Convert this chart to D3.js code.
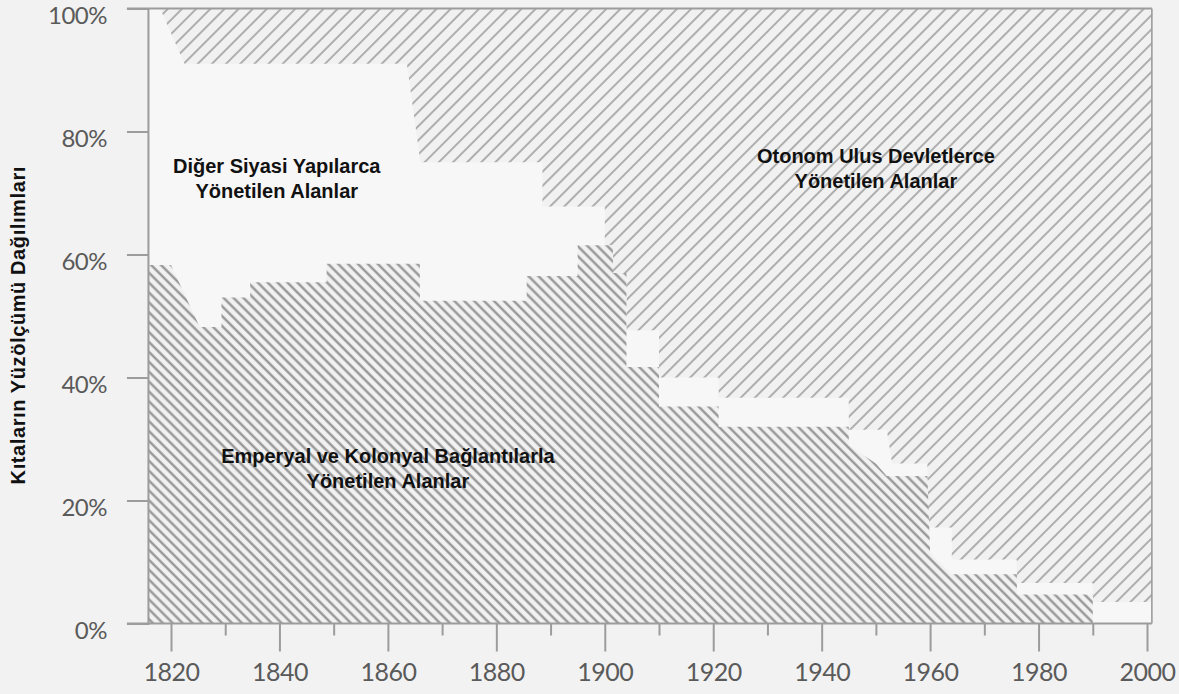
<!DOCTYPE html>
<html><head><meta charset="utf-8">
<script src="https://cdn.jsdelivr.net/npm/d3@7"></script>
<style>
html,body{margin:0;padding:0;background:#f2f2f2;}
svg{display:block;}
</style></head><body>
<svg id="chart" width="1179" height="694"></svg>
<script>
// ---- data ----
const yearStart = 1815.75;
const yearEnd = 2000.9;
// upper edge of "Emperyal ve Kolonyal" region (% of land area)
const colonialYears  = [1815.75,1820,1825.3,1829.3,1829.3,1834.6,1834.6,1848.7,1848.7,1865.9,1865.9,1885.6,1885.6,1895,1895,1901.5,1901.5,1904,1904,1910,1910,1921,1921,1945,1945,1950,1952,1959.5,1960,1964,1976,1976,1990,1990,2000.9];
const colonialValues = [58.3,58.3,48.2,48.2,53,53,55.5,55.5,58.5,58.5,52.5,52.5,56.5,56.5,61.5,61.5,57,57,41.7,41.7,35.3,35.3,32,32,29,26,24,24,11.5,8,8,4.7,4.7,0,0];
// lower edge of "Otonom Ulus Devletlerce" region (% of land area)
const nationYears  = [1815.75,1818,1822.5,1863.5,1866,1888.5,1888.5,1900,1900,1901.5,1901.5,1904,1904,1910,1910,1921,1921,1945,1945,1952,1953,1959.5,1959.5,1964,1964,1976,1976,1990,1990,2000.9];
const nationValues = [100,100,91,91,75,75,67.8,67.8,61.5,61.5,57,57,47.7,47.7,40,40,36.7,36.7,31.5,31.5,26,26,15.6,15.6,10.4,10.4,6.6,6.6,3.5,3.5];
const xTickYears = [1820,1840,1860,1880,1900,1920,1940,1960,1980,2000];
const xMinorYears = [1830,1850,1870,1890,1910,1930,1950,1970,1990];
const yTickValues = [0,20,40,60,80,100];
const yTickLabels = ["0%","20%","40%","60%","80%","100%"];
const yAxisTitle = "Kıtaların Yüzölçümü Dağılımları";
const labelOther = ["Diğer Siyasi Yapılarca","Yönetilen Alanlar"];
const labelNation = ["Otonom Ulus Devletlerce","Yönetilen Alanlar"];
const labelColonial = ["Emperyal ve Kolonyal Bağlantılarla","Yönetilen Alanlar"];

// ---- drawing ----
const svg = d3.select("#chart");
const x = d3.scaleLinear().domain([1820,2000]).range([171,1147]);
const y = d3.scaleLinear().domain([0,100]).range([623.5,8.5]);

const defs = svg.append("defs");
function hatch(id, spacing, angle, color, width){
  const p = defs.append("pattern").attr("id",id)
    .attr("patternUnits","userSpaceOnUse")
    .attr("width",spacing).attr("height",spacing)
    .attr("patternTransform",`rotate(${angle})`);
  p.append("rect").attr("width",spacing).attr("height",spacing).attr("fill","#f1f1f1");
  p.append("line").attr("x1",spacing/2).attr("x2",spacing/2).attr("y1",-1).attr("y2",spacing+1)
    .attr("stroke",color).attr("stroke-width",width);
}
hatch("hColonial", 7, -45, "#8f8f8f", 2.2);
hatch("hNation", 10, 45, "#a2a2a2", 1.7);

// plot background (other political structures)
svg.append("rect").attr("x",x(yearStart)).attr("y",y(100))
  .attr("width",x(yearEnd)-x(yearStart)).attr("height",y(0)-y(100))
  .attr("fill","#f7f7f7");

const colonialData = colonialYears.map((t,i)=>({t,v:colonialValues[i]}));
const nationData = nationYears.map((t,i)=>({t,v:nationValues[i]}));

svg.append("path").datum(nationData)
  .attr("d", d3.area().x(d=>x(d.t)).y0(d=>y(d.v)).y1(y(100)))
  .attr("fill","url(#hNation)");
svg.append("path").datum(colonialData)
  .attr("d", d3.area().x(d=>x(d.t)).y0(y(0)).y1(d=>y(d.v)))
  .attr("fill","url(#hColonial)");

// frame and axes
const axisColor = "#9c9c9c";
const g = svg.append("g");
g.append("line").attr("x1",127).attr("x2",x(yearEnd)).attr("y1",y(100)).attr("y2",y(100)).attr("stroke",axisColor).attr("stroke-width",2);
g.append("line").attr("x1",x(yearEnd)).attr("x2",x(yearEnd)).attr("y1",y(100)).attr("y2",y(0)).attr("stroke",axisColor).attr("stroke-width",1.6);

const xAxis = d3.axisBottom(x).tickValues(xTickYears).tickFormat(d3.format("d")).tickSize(28).tickPadding(6);
const xg = svg.append("g").attr("transform",`translate(0,${y(0)})`).call(xAxis);
xg.select(".domain").remove();
xg.selectAll(".tick line").attr("stroke",axisColor).attr("stroke-width",2);
xg.selectAll(".tick text").attr("fill","#5a5a5a").attr("font-family","Lato, 'Open Sans', sans-serif")
  .attr("font-size",25).attr("letter-spacing","-0.5px").attr("dy","0.95em");
const xMinor = d3.axisBottom(x).tickValues(xMinorYears).tickSize(12).tickFormat("");
const xmg = svg.append("g").attr("transform",`translate(0,${y(0)})`).call(xMinor);
xmg.select(".domain").remove();
xmg.selectAll(".tick line").attr("stroke",axisColor).attr("stroke-width",2);
g.append("line").attr("x1",127).attr("x2",x(yearEnd)).attr("y1",y(0)).attr("y2",y(0)).attr("stroke",axisColor).attr("stroke-width",2);

const yAxis = d3.axisLeft(y).tickValues(yTickValues).tickFormat((d,i)=>yTickLabels[i]).tickSize(21).tickPadding(20);
const yg = svg.append("g").attr("transform",`translate(${x(yearStart)},0)`).call(yAxis);
yg.select(".domain").attr("stroke",axisColor).attr("stroke-width",2);
yg.selectAll(".tick line").attr("stroke",axisColor).attr("stroke-width",2);
yg.selectAll(".tick text").attr("fill","#5a5a5a").attr("font-family","Lato, 'Open Sans', sans-serif")
  .attr("font-size",24).attr("letter-spacing","-0.5px").attr("dy","0.64em");

// y axis title
svg.append("text").attr("transform",`translate(25,${y(48.5)}) rotate(-90)`)
  .attr("text-anchor","middle").attr("font-family","'Liberation Sans', Arial, sans-serif")
  .attr("font-weight","bold").attr("font-size",20).attr("letter-spacing","0.6px").attr("fill","#111")
  .text(yAxisTitle);

// region labels
function label(lines, cx, by){
  const t = svg.append("text").attr("text-anchor","middle")
    .attr("font-family","'Liberation Sans', Arial, sans-serif").attr("font-weight","bold")
    .attr("font-size",20).attr("fill","#111");
  lines.forEach((s,i)=>t.append("tspan").attr("x",cx).attr("y",by+i*24.5).text(s));
}
label(labelOther, x(1839.5), 173);
label(labelNation, x(1950), 163);
label(labelColonial, x(1860), 463);
</script>
</body></html>
